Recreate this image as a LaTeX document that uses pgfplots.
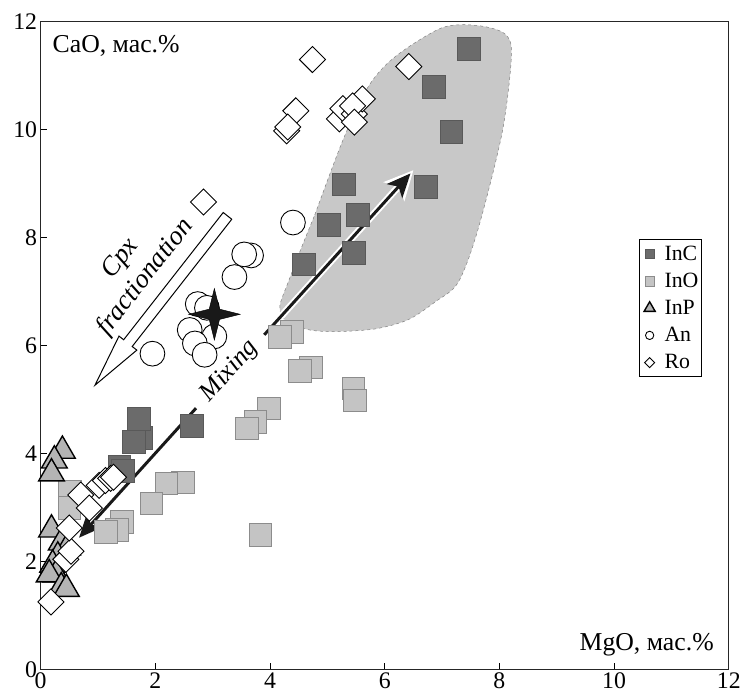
\documentclass[border=0pt]{standalone}
\usepackage{fontspec}
\setmainfont{Liberation Serif}
\usepackage{pgfplots}
\pgfplotsset{compat=1.18}
\usetikzlibrary{arrows.meta}

\definecolor{incfill}{HTML}{6B6B6B}
\definecolor{inofill}{HTML}{C4C4C4}
\definecolor{inpfill}{HTML}{B4B4B4}
\definecolor{fieldfill}{HTML}{C8C8C8}

% four-pointed star
\pgfdeclareplotmark{star4}{%
  \pgfpathmoveto{\pgfqpoint{0pt}{\pgfplotmarksize}}%
  \pgfpathlineto{\pgfqpoint{0.2\pgfplotmarksize}{0.2\pgfplotmarksize}}%
  \pgfpathlineto{\pgfqpoint{\pgfplotmarksize}{0pt}}%
  \pgfpathlineto{\pgfqpoint{0.2\pgfplotmarksize}{-0.2\pgfplotmarksize}}%
  \pgfpathlineto{\pgfqpoint{0pt}{-\pgfplotmarksize}}%
  \pgfpathlineto{\pgfqpoint{-0.2\pgfplotmarksize}{-0.2\pgfplotmarksize}}%
  \pgfpathlineto{\pgfqpoint{-\pgfplotmarksize}{0pt}}%
  \pgfpathlineto{\pgfqpoint{-0.2\pgfplotmarksize}{0.2\pgfplotmarksize}}%
  \pgfpathclose\pgfusepathqfillstroke}

\begin{document}
\begin{tikzpicture}
\begin{axis}[
    scale only axis,
    width=695pt, height=654pt,
    xmin=0, xmax=12, ymin=0, ymax=12,
    xtick={0,2,...,12}, ytick={0,2,...,12},
    tick pos=left,
    tick align=inside,
    major tick length=6pt,
    tick style={black, line width=0.8pt},
    axis line style={black!85, line width=0.8pt},
    ticklabel style={font=\fontsize{24}{24}\selectfont},
    /pgf/number format/assume math mode=true,
    legend image code/.code={%
        \path[draw=none, fill=none] (0pt,0pt) -- (22pt,0pt);
        \draw[#1] plot coordinates {(9pt,0pt)};},
    legend style={at={(0.870,0.664)}, anchor=north west, draw=black,
        line width=0.8pt, fill=white, font=\fontsize{22}{22}\selectfont,
        row sep=7.5pt, inner xsep=1pt, inner ysep=4pt,
        cells={anchor=west}},
]

% composition field
\addplot[fill=fieldfill, draw=black!50, dashed, line width=0.5pt, smooth, forget plot]
coordinates {
(4.78,8.42) (5.28,9.83) (5.72,10.81) (6.19,11.36) (7.00,11.89) (7.62,11.93)
(8.09,11.78) (8.21,11.39) (8.05,9.96) (7.62,8.13) (7.28,7.17) (6.88,6.81)
(6.41,6.48) (5.84,6.31) (5.16,6.26) (4.69,6.29) (4.29,6.44) (4.17,6.72)
(4.33,7.21) (4.55,7.82) (4.78,8.42)
};

% InC
\addplot[only marks, mark=square*, mark size=11.5pt,
    mark options={fill=incfill, draw=black!65, line width=0.4pt},
    legend image post style={mark size=5pt}]
coordinates {
(7.47,11.5) (6.86,10.8) (7.16,9.96) (6.71,8.95) (5.28,8.99) (5.53,8.42)
(5.02,8.24) (5.46,7.72) (4.59,7.51) (1.75,4.29) (1.71,4.64) (1.63,4.22)
(1.37,3.76) (1.43,3.68) (2.63,4.51)
};
\addlegendentry{InC}

% InO
\addplot[only marks, mark=square*, mark size=11.5pt,
    mark options={fill=inofill, draw=black!45, line width=0.4pt},
    legend image post style={mark size=5pt}]
coordinates {
(4.38,6.26) (4.17,6.17) (4.71,5.6) (4.52,5.54) (5.45,5.21) (5.47,4.99)
(3.98,4.84) (3.74,4.59) (3.59,4.47) (3.83,2.5) (2.48,3.47) (2.19,3.45)
(1.93,3.08) (1.41,2.74) (1.33,2.59) (1.14,2.55) (0.51,3.29) (0.5,2.99)
};
\addlegendentry{InO}

% InP
\addplot[only marks, mark=triangle*, mark size=15pt,
    mark options={fill=inpfill, draw=black, line width=1.4pt},
    legend image post style={mark size=6.5pt}]
coordinates {
(0.38,4.05) (0.24,3.87) (0.19,3.63) (0.19,2.59) (0.36,2.35) (0.47,2.26)
(0.3,2.09) (0.21,1.94) (0.27,1.76) (0.15,1.76) (0.36,1.52) (0.45,1.49)
};
\addlegendentry{InP}

% An
\addplot[only marks, mark=*, mark size=12.5pt,
    mark options={fill=white, draw=black, line width=0.9pt},
    legend image post style={mark size=4.2pt}]
coordinates {
(4.4,8.28) (3.67,7.67) (3.55,7.69) (3.38,7.27) (1.95,5.85) (2.74,6.77)
(2.9,6.7) (2.6,6.29) (3.03,6.17) (2.69,6.04) (2.86,5.83)
};
\addlegendentry{An}

% Ro
\addplot[only marks, mark=square*, mark size=9.3pt,
    mark options={fill=white, draw=black, line width=0.9pt, rotate=45},
    legend image post style={mark size=3.6pt}]
coordinates {
(4.74,11.3) (4.45,10.35) (4.29,9.98) (4.31,10.05) (2.84,8.66) (5.21,10.2)
(5.27,10.39) (5.47,10.29) (5.61,10.57) (5.44,10.44) (5.47,10.14) (6.42,11.17)
(0.18,1.25) (0.44,2.04) (0.53,2.19) (0.5,2.62) (0.7,3.23) (0.85,2.99)
(1.02,3.41) (1.13,3.5) (1.22,3.54) (1.27,3.56)
};
\addlegendentry{Ro}

% star
\addplot[only marks, mark=star4, mark size=26pt, forget plot,
    mark options={fill=black!90, draw=black}]
coordinates {(3.03,6.58)};

% mixing arrow (white halo, then black)
\draw[white, line width=7pt, -{Stealth[length=29pt, width=28pt, inset=7pt]}]
    (axis cs:2.71,4.84) -- (axis cs:0.62,2.38);
\draw[white, line width=7pt, -{Stealth[length=29pt, width=28pt, inset=7pt]}]
    (axis cs:3.9,6.2) -- (axis cs:6.50,9.25);
\draw[black!90, line width=3pt, -{Stealth[length=24pt, width=21pt, inset=6pt]}]
    (axis cs:2.71,4.84) -- (axis cs:0.67,2.44);
\draw[black!90, line width=3pt, -{Stealth[length=24pt, width=21pt, inset=6pt]}]
    (axis cs:3.9,6.2) -- (axis cs:6.45,9.19);
\node[rotate=47.8, font=\fontsize{26}{26}\selectfont\itshape]
    at (axis cs:3.30,5.52) {Mixing};

% Cpx fractionation arrow (hollow)
\draw[black, fill=white, line width=1pt, line join=miter]
    (axis cs:3.333,8.341) -- (axis cs:1.597,5.983) -- (axis cs:1.678,5.916)
    -- (axis cs:0.948,5.266) -- (axis cs:1.367,6.176) -- (axis cs:1.448,6.108)
    -- (axis cs:3.184,8.466) -- cycle;
\node[rotate=51.9, font=\fontsize{27}{27}\selectfont\itshape]
    at (axis cs:1.40,7.60) {Cpx};
\node[rotate=51.9, font=\fontsize{27}{27}\selectfont\itshape]
    at (axis cs:1.83,7.27) {fractionation};

% axis titles
\node[anchor=base west, inner sep=0pt, font=\fontsize{26}{26}\selectfont]
    at (axis cs:0.207,11.43) {CaO, мас.\%};
\node[anchor=base east, inner sep=0pt, font=\fontsize{26}{26}\selectfont]
    at (axis cs:11.74,0.35) {MgO, мас.\%};
\end{axis}
\path (-41pt,-28pt) rectangle (703pt,676pt);
\end{tikzpicture}
\end{document}
